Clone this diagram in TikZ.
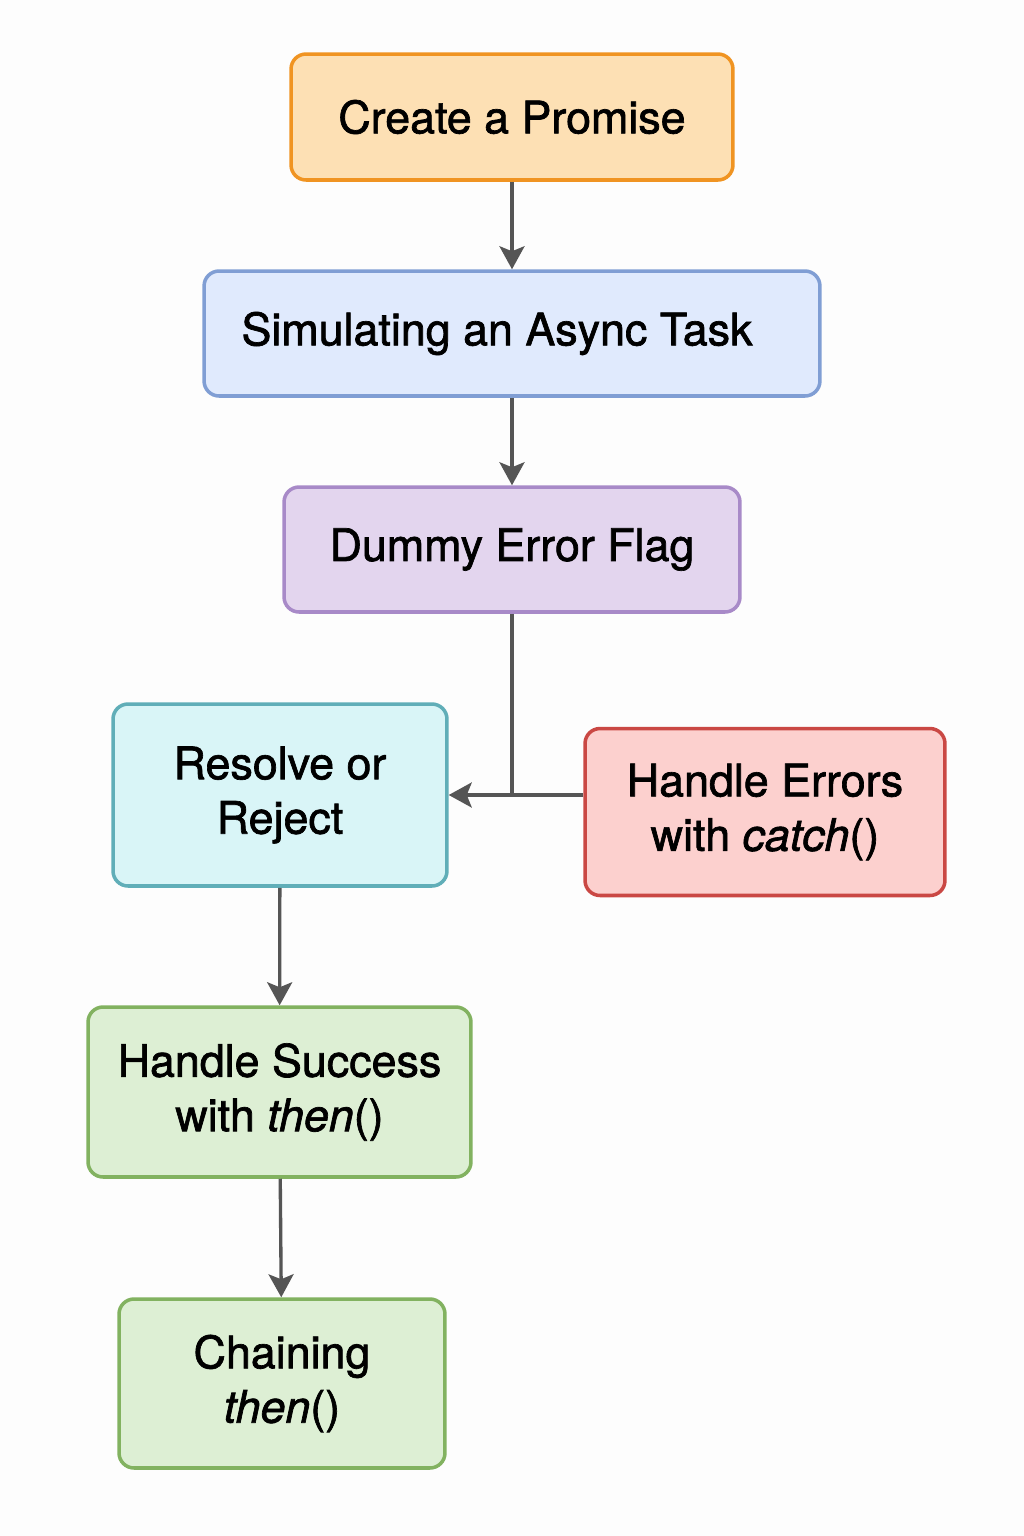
\documentclass[tikz,border=0pt]{standalone}
\usepackage{fontspec}
\setmainfont{TeX Gyre Heros}
\newfontfamily\labelfont{TeX Gyre Heros}[FakeBold=1.5]
\usetikzlibrary{arrows.meta}
\definecolor{OrangeFill}{RGB}{253,224,180}
\definecolor{OrangeLine}{RGB}{240,148,34}
\definecolor{BlueFill}{RGB}{224,234,253}
\definecolor{BlueLine}{RGB}{128,158,212}
\definecolor{PurpleFill}{RGB}{227,213,238}
\definecolor{PurpleLine}{RGB}{168,138,200}
\definecolor{CyanFill}{RGB}{217,245,247}
\definecolor{CyanLine}{RGB}{96,174,184}
\definecolor{RedFill}{RGB}{252,208,206}
\definecolor{RedLine}{RGB}{202,72,68}
\definecolor{GreenFill}{RGB}{221,239,212}
\definecolor{GreenLine}{RGB}{130,178,96}
\definecolor{Arrow}{RGB}{85,85,85}
\definecolor{Paper}{RGB}{253,253,253}

\begin{document}
\begin{tikzpicture}[x=0.02cm, y=-0.02cm,
	box/.style={draw, rounded corners=0.3cm, line width=2pt, align=center,
		inner sep=0pt, font=\labelfont\fontsize{25.5}{31}\selectfont},
	flow/.style={draw=Arrow, line width=1.9pt,
		-{Stealth[length=0.46cm, width=0.5cm, inset=0.1cm]}},
	joint/.style={draw=Arrow, line width=1.9pt}]
		
		% Background
		\useasboundingbox [fill=Paper] (0,0) rectangle (1024,1536);
		
		% Boxes
		\node[box, fill=OrangeFill, draw=OrangeLine, minimum width=8.84cm, minimum height=2.52cm] (create) at (512,117) {Create a Promise};
		\node[box, fill=BlueFill, draw=BlueLine, minimum width=12.32cm, minimum height=2.5cm] (async) at (512,333.5) {Simulating an Async Task\hspace{0.6cm}};
		\node[box, fill=PurpleFill, draw=PurpleLine, minimum width=9.12cm, minimum height=2.5cm] (flag) at (512,549.5) {Dummy Error Flag};
		\node[box, fill=CyanFill, draw=CyanLine, minimum width=6.68cm, minimum height=3.64cm] (resolve) at (280,795) {Resolve or\\Reject};
		\node[box, fill=RedFill, draw=RedLine, minimum width=7.2cm, minimum height=3.34cm] (errors) at (765,812) {Handle Errors\\with \textit{catch}()};
		\node[box, fill=GreenFill, draw=GreenLine, minimum width=7.66cm, minimum height=3.4cm] (success) at (279.5,1092) {Handle Success\\with \textit{then}()};
		\node[box, fill=GreenFill, draw=GreenLine, minimum width=6.52cm, minimum height=3.38cm] (chain) at (282,1383.5) {Chaining\\\textit{then}()};
		
		% Flows
		\draw[flow] (create) -- (async);
		\draw[flow] (async) -- (flag);
		\draw[joint] (flag.south) -- (flag.south |- resolve.east);
		\draw[flow] (errors.west |- resolve.east) -- (resolve.east);
		\draw[flow] (resolve) -- (success);
		\draw[flow] (success) -- (chain);
		
	\end{tikzpicture}
\end{document}
